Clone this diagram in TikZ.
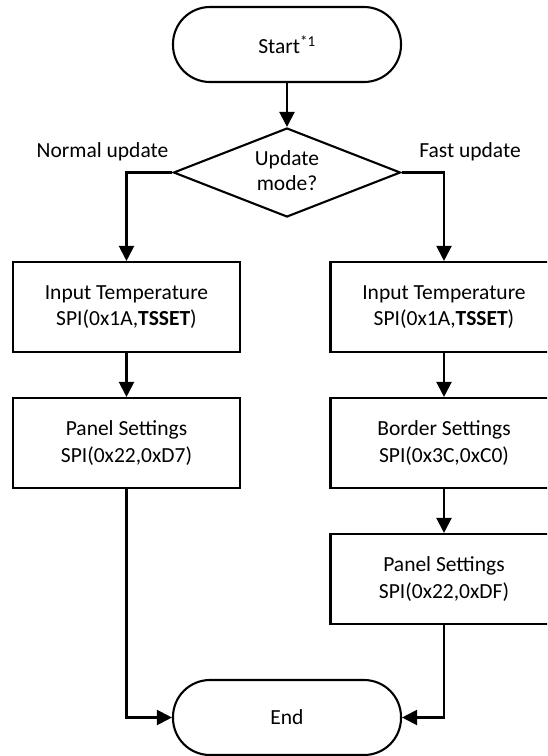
\documentclass[tikz,border=0pt]{standalone}
\usepackage{fontspec}
\setmainfont{Carlito}
\usetikzlibrary{shapes.geometric,arrows.meta}
\begin{document}
\begin{tikzpicture}[x=1pt,y=-1pt,
  font=\fontsize{21.5}{26.7}\selectfont,
  lw/.style={line width=2.1pt},
  box/.style={draw,lw,minimum width=227pt,minimum height=90pt,inner sep=0pt,align=center},
  term/.style={draw,lw,rounded corners=37pt,minimum width=228pt,minimum height=75pt,inner sep=0pt,align=center},
  dec/.style={draw,lw,diamond,aspect=2.55,minimum width=227pt,minimum height=89pt,inner sep=0pt,align=center},
  arr/.style={lw,-{Triangle[length=15pt,width=15pt]}},
  lbl/.style={inner sep=0pt,anchor=base}
]
\path[use as bounding box,clip] (0,0) rectangle (547,756);
\node[term] (start) at (287,44.5) {Start\textsuperscript{*1}};
\node[dec] (mode) at (287,172.5) {\raisebox{-3pt}{\begin{tabular}{@{}c@{}}Update\\[-2pt]mode?\end{tabular}}};
\node[box] (inA) at (126.5,307) {Input Temperature\\SPI(0x1A,\textbf{TSSET})};
\node[box] (panA) at (126.5,443) {Panel Settings\\SPI(0x22,0xD7)};
\node[box] (inB) at (444,307) {Input Temperature\\SPI(0x1A,\textbf{TSSET})};
\node[box] (bordB) at (444,443) {Border Settings\\SPI(0x3C,0xC0)};
\node[box] (panB) at (444,579) {Panel Settings\\SPI(0x22,0xDF)};
\node[term] (end) at (287,717.5) {End};
\node[lbl] (nl) at (102.5,157) {Normal update};
\node[lbl] (fl) at (470,157) {Fast update};
\draw[arr] (start) -- (mode);
\draw[arr] (mode.west) -| (inA.north);
\draw[arr] (mode.east) -| (inB.north);
\draw[arr] (inA) -- (panA);
\draw[arr] (inB) -- (bordB);
\draw[arr] (bordB) -- (panB);
\draw[arr] (panA.south) |- (end.west);
\draw[arr] (panB.south) |- (end.east);
\end{tikzpicture}
\end{document}
